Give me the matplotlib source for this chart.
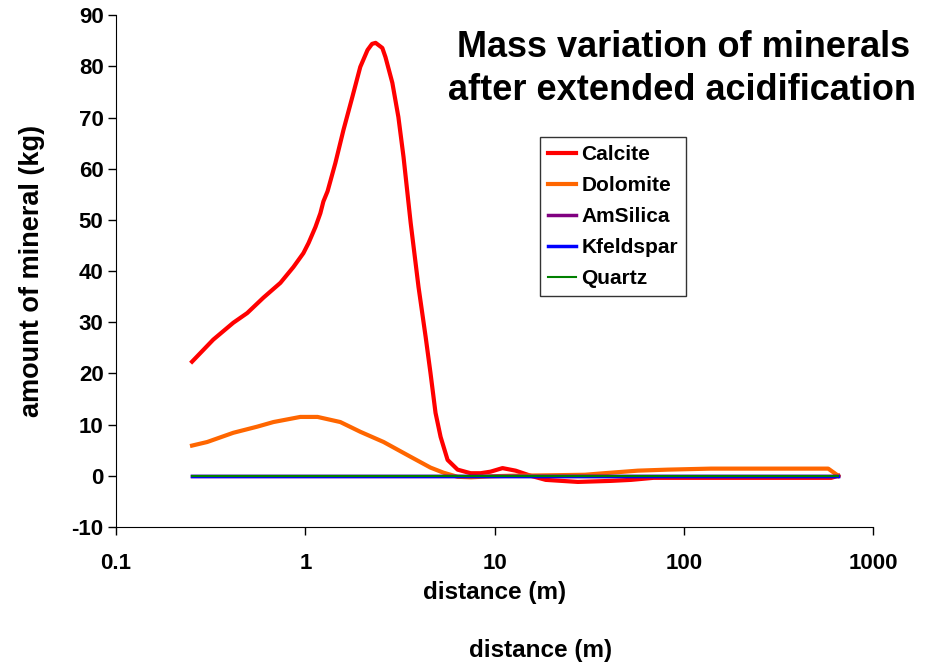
import matplotlib
matplotlib.use("Agg")
import matplotlib.pyplot as plt

plt.rcParams['font.family'] = ['Liberation Sans', 'DejaVu Sans']
plt.rcParams['font.weight'] = 'bold'
plt.rcParams['axes.unicode_minus'] = False

# distance (m) / mass (kg)
calcite_x = [0.252, 0.326, 0.416, 0.493, 0.60, 0.738, 0.865, 0.976, 1.04, 1.13,
             1.2, 1.245, 1.31, 1.44, 1.59, 1.77, 1.95, 2.13, 2.25, 2.35, 2.55,
             2.65, 2.88, 3.1, 3.3, 3.6, 3.96, 4.32, 4.58, 4.87, 5.18, 5.64, 6.37,
             7.46, 8.43, 9.5, 11.0, 12.9, 15.5, 18.6, 27.5, 41, 52.5, 69, 123,
             600, 653]
calcite_y = [22.3, 26.6, 29.9, 31.8, 34.8, 37.7, 40.8, 43.5, 45.5, 48.6,
             51.3, 53.6, 55.6, 61.1, 67.6, 74.0, 79.9, 83.2, 84.4, 84.6, 83.6,
             81.8, 76.8, 70.1, 62.3, 49.4, 36.9, 27.1, 20.1, 12.3, 7.6, 3.1, 1.2,
             0.5, 0.5, 0.8, 1.5, 1.0, 0.0, -0.8, -1.2, -1.0, -0.8, -0.4, -0.4,
             -0.4, 0.0]

dolomite_x = [0.252, 0.303, 0.416, 0.557, 0.678, 0.94, 1.16, 1.53, 1.95, 2.59,
              3.6, 4.58, 5.37, 6.37, 7.5, 9.5, 12, 20, 30, 37.8, 57, 82, 139,
              578, 653]
dolomite_y = [5.9, 6.6, 8.4, 9.6, 10.5, 11.5, 11.5, 10.5, 8.6, 6.6,
              3.7, 1.6, 0.6, -0.2, -0.3, -0.1, 0.0, 0.1, 0.2, 0.5, 1.0, 1.2, 1.4,
              1.4, 0.0]

flat_x = [0.252, 653]
amsilica_y = [0.0, 0.0]
kfeldspar_y = [0.0, 0.0]
quartz_y = [0.0, 0.0]

fig = plt.figure(figsize=(9.36, 6.62), dpi=100)
ax = fig.add_axes([0.124, 0.204, 0.809, 0.773])

ax.plot(calcite_x, calcite_y, color='#FF0000', lw=3, label='Calcite')
ax.plot(dolomite_x, dolomite_y, color='#FF6600', lw=3, label='Dolomite')
ax.plot(flat_x, amsilica_y, color='#800080', lw=2.5, label='AmSilica')
ax.plot(flat_x, kfeldspar_y, color='#0000FF', lw=2.5, label='Kfeldspar')
ax.plot(flat_x, quartz_y, color='#008000', lw=1.5, label='Quartz')

ax.set_xscale('log')
ax.set_xlim(0.1, 1000)
ax.set_ylim(-10, 90)
ax.set_xticks([0.1, 1, 10, 100, 1000])
ax.set_xticklabels(['0.1', '1', '10', '100', '1000'])
ax.set_yticks(range(-10, 91, 10))
ax.minorticks_off()
ax.tick_params(labelsize=16, length=6, direction='out', width=1)
ax.tick_params(axis='x', pad=13)
ax.tick_params(axis='y', pad=3)
for lab in ax.get_xticklabels() + ax.get_yticklabels():
    lab.set_fontweight('bold')
ax.spines['top'].set_visible(False)
ax.spines['right'].set_visible(False)

ax.set_xlabel('distance (m)', fontsize=17.5, fontweight='bold')
ax.xaxis.set_label_coords(0.5, -0.105)
ax.set_ylabel('amount of mineral (kg)', fontsize=19.5, fontweight='bold')
ax.yaxis.set_label_coords(-0.094, 0.5)
fig.text(0.578, 0.018, 'distance (m)', fontsize=17.5, fontweight='bold',
         ha='center', va='center')

fig.text(0.73, 0.914, 'Mass variation of minerals', fontsize=26,
         fontweight='bold', ha='center', va='baseline')
fig.text(0.729, 0.849, 'after extended acidification', fontsize=26,
         fontweight='bold', ha='center', va='baseline')

leg = ax.legend(loc='upper left', bbox_to_anchor=(0.56, 0.762), borderaxespad=0,
                fancybox=False, edgecolor='black', fontsize=15, handlelength=1.35,
                handletextpad=0.25, labelspacing=0.58, borderpad=0.38)
leg.get_frame().set_linewidth(1)
for t in leg.get_texts():
    t.set_fontweight('bold')

fig.savefig('out.png', dpi=100)
